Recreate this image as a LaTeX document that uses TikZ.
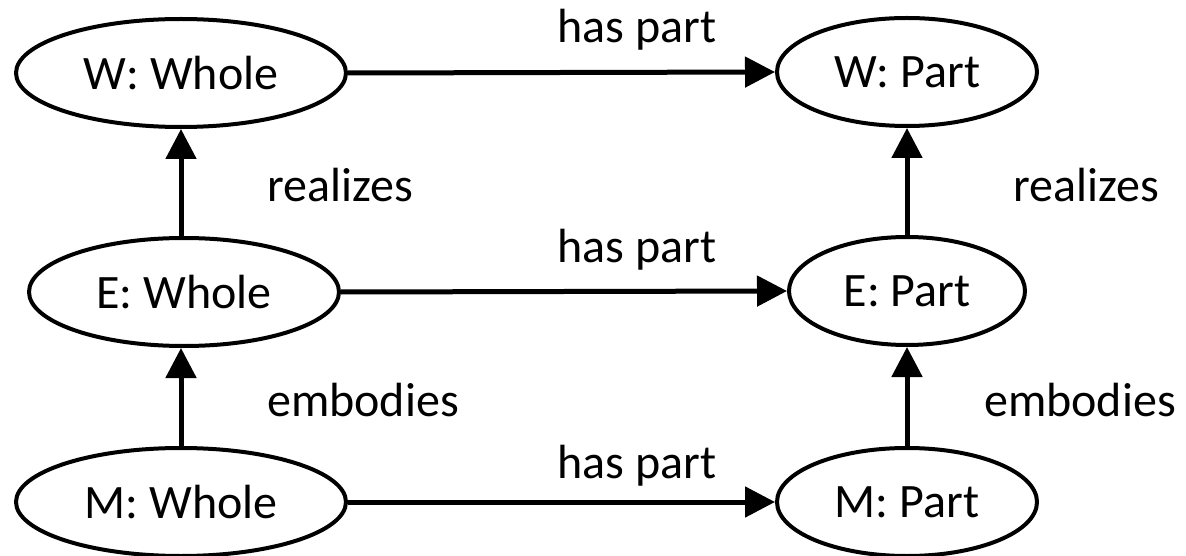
\documentclass[tikz,border=0pt]{standalone}
\usepackage{fontspec}
\setmainfont{Carlito}
\usetikzlibrary{shapes.geometric,arrows.meta}
\begin{document}
\begin{tikzpicture}[x=1pt,y=-1pt,
  every node/.style={font=\fontsize{48}{54}\selectfont},
  ent/.style={ellipse,draw,line width=4pt,inner sep=0pt,minimum height=108pt},
  wide/.style={ent,minimum width=330pt},
  narrow/.style={ent,minimum width=260pt},
  mid/.style={ent,minimum width=310pt},
  midn/.style={ent,minimum width=236pt},
  rel/.style={line width=5pt,-{Triangle[length=30pt,width=30pt]}},
  lab/.style={inner sep=0pt}]
\useasboundingbox (0,0) rectangle (1186,556);
\node[wide] (ww) at (181,73) {W: Whole};
\node[narrow] (wp) at (907,72) {W: Part};
\node[mid] (ew) at (184,292) {E: Whole};
\node[midn] (ep) at (907,291) {E: Part};
\node[wide] (mw) at (181,502) {M: Whole};
\node[narrow] (mp) at (907,502) {M: Part};
\draw[rel] (ww.east) -- (wp.west);
\draw[rel] (ew.east) -- (ep.west);
\draw[rel] (mw.east) -- (mp.west);
\draw[rel] (ew.north -| ww.south) -- (ww.south);
\draw[rel] (mw.north) -- (ew.south -| mw.north);
\draw[rel] (ep.north) -- (wp.south);
\draw[rel] (mp.north) -- (ep.south);
\node[lab] (l1) at (637,30) {has part};
\node[lab] (l2) at (637,250) {has part};
\node[lab] (l3) at (637,466) {has part};
\node[lab] (l4) at (340,185) {realizes};
\node[lab] (l5) at (1086,185) {realizes};
\node[lab] (l6) at (363,400) {embodies};
\node[lab] (l7) at (1080,400) {embodies};
\end{tikzpicture}
\end{document}
